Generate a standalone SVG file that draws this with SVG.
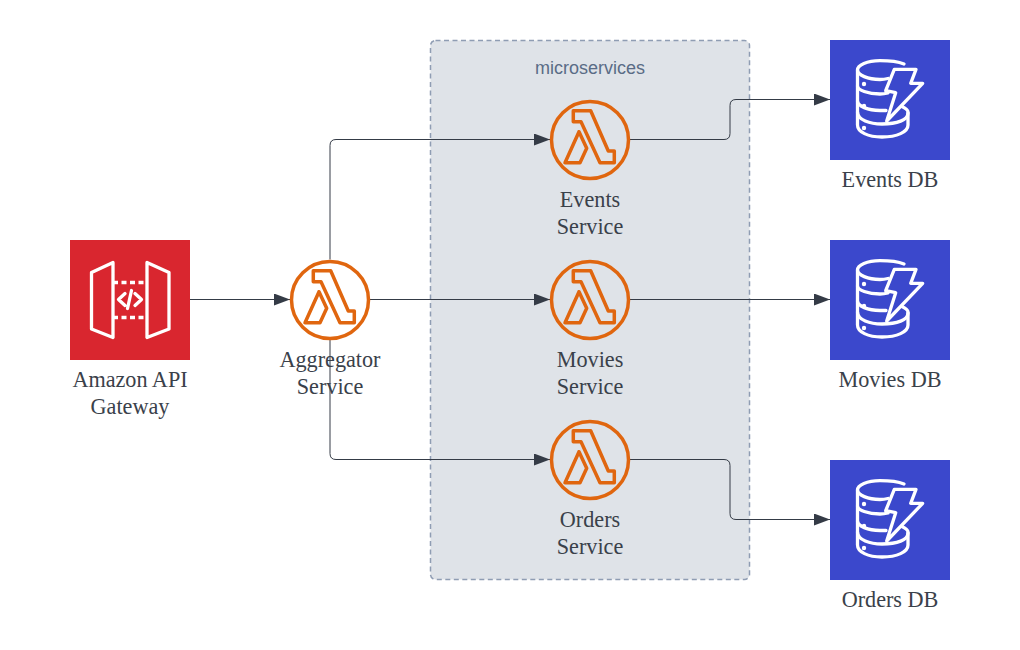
<svg xmlns="http://www.w3.org/2000/svg" xmlns:xlink="http://www.w3.org/1999/xlink" width="1020" height="650" viewBox="0 0 1020 650">
<style>
.lbl{font-family:"Liberation Serif",serif;font-size:22.2px;fill:#3a414a;text-anchor:middle}
.conn{fill:none;stroke:#343b46;stroke-width:1;marker-end:url(#arrow)}
.w{fill:none;stroke:#fff;stroke-width:3.300;stroke-linejoin:round;stroke-linecap:round}
.o{fill:none;stroke:#e0660f;stroke-linejoin:round}
</style>
<defs>
<marker id="arrow" markerUnits="userSpaceOnUse" markerWidth="17" markerHeight="12" refX="16" refY="6" orient="auto"><path d="M0 0L16 6L0 12Z" fill="#343b46"/></marker>
<g id="lambda">
<circle class="o" r="38.500" stroke-width="3.500"/>
<path class="o" stroke-width="3.500" d="M-16.700-29.300H0.700L18.300 11H24.300V22.700H10L-9-18.300H-16.700Z"/>
<path class="o" stroke-width="3.500" d="M-11-8.300L-25 22.700H-10L-3.300 8.300Z"/>
</g>
<g id="dynamo">
<rect width="120" height="120" fill="#3b48cc"/>
<g class="w">
<path d="M74 24C69 22 60 20.700 50 20.700C37 20.700 27.500 25 27.500 30C27.500 35 38 39.500 50 39.500C53 39.500 56 39 58 38.500"/>
<path d="M27.500 30V85C27.500 92 38 97 52 97C67 97 78 92 78 85V72C78 70 75 68 72 66.500"/>
<path d="M27.500 46C27.500 50 38 54 50 54C53 54 56 53.500 58 53"/>
<path d="M27.500 61C27.500 66 38 70.500 50 70.500H56"/>
<path d="M27.500 72C27.500 80 40 84 52 84C67 84 78 80 78 73"/>
<path d="M64.300 29.300H86L80.700 43.300H92.700L56.700 81L65.700 52.700L55.700 50.700Z"/>
</g>
<g fill="#fff"><circle cx="34" cy="44" r="2.200"/><circle cx="34" cy="66" r="2.200"/><circle cx="34" cy="88" r="2.200"/></g>
</g>
</defs>

<g id="microservices">
<rect x="430.500" y="40.500" width="319" height="539" rx="5" fill="#dfe3e8" stroke="#8f9db3" stroke-width="1.500" stroke-dasharray="5 3.500"/>
<text x="590" y="74" text-anchor="middle" font-family="Liberation Sans,sans-serif" font-size="18" fill="#5a6c86">microservices</text>
</g>

<g id="connectors" transform="translate(0,-0.5)">
<path class="conn" d="M190 300H290"/>
<path class="conn" d="M330 260V146Q330 140 336 140H550"/>
<path class="conn" d="M370 300H550"/>
<path class="conn" d="M330 340V454Q330 460 336 460H550"/>
<path class="conn" d="M630 140H724Q730 140 730 134V106Q730 100 736 100H830"/>
<path class="conn" d="M630 300H830"/>
<path class="conn" d="M630 460H724Q730 460 730 466V514Q730 520 736 520H830"/>
</g>

<g id="api-gateway">
<rect x="70" y="240" width="120" height="120" fill="#d9262f"/>
<g class="w">
<path d="M113 262.500L91.500 272.500V329L113 337.500Z"/>
<path d="M147 262.500L169 272.500V329L147 337.500Z"/>
<path d="M113 282.500H147M113 317.500H147" stroke-dasharray="5 3.500" stroke-linecap="butt"/>
<path d="M125 293.500L118.500 299.500L125 305.500M135 293.500L141.500 299.500L135 305.500M131.500 290.500L127.500 308.500"/>
</g>
<text class="lbl" x="130" y="387">Amazon API</text>
<text class="lbl" x="130" y="414">Gateway</text>
</g>

<g id="aggregator">
<use xlink:href="#lambda" href="#lambda" x="330" y="300"/>
<text class="lbl" x="330" y="367">Aggregator</text>
<text class="lbl" x="330" y="394">Service</text>
</g>
<g id="events-service">
<use xlink:href="#lambda" href="#lambda" x="590" y="140"/>
<text class="lbl" x="590" y="207">Events</text>
<text class="lbl" x="590" y="234">Service</text>
</g>
<g id="movies-service">
<use xlink:href="#lambda" href="#lambda" x="590" y="300"/>
<text class="lbl" x="590" y="367">Movies</text>
<text class="lbl" x="590" y="394">Service</text>
</g>
<g id="orders-service">
<use xlink:href="#lambda" href="#lambda" x="590" y="460"/>
<text class="lbl" x="590" y="527">Orders</text>
<text class="lbl" x="590" y="554">Service</text>
</g>
<g id="events-db">
<use xlink:href="#dynamo" href="#dynamo" x="830" y="40"/>
<text class="lbl" x="890" y="187">Events DB</text>
</g>
<g id="movies-db">
<use xlink:href="#dynamo" href="#dynamo" x="830" y="240"/>
<text class="lbl" x="890" y="387">Movies DB</text>
</g>
<g id="orders-db">
<use xlink:href="#dynamo" href="#dynamo" x="830" y="460"/>
<text class="lbl" x="890" y="607">Orders DB</text>
</g>
</svg>
